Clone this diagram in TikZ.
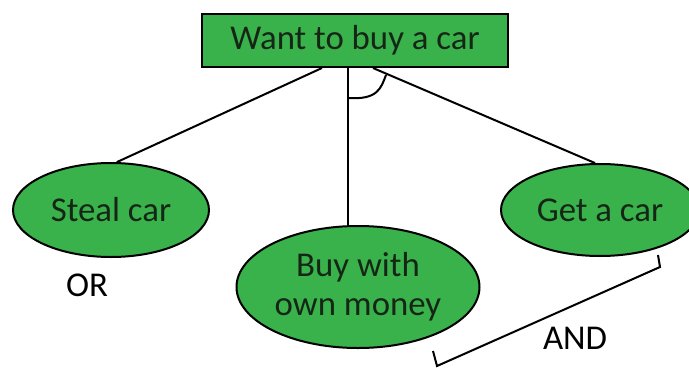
\documentclass[tikz,border=0pt]{standalone}
\usepackage{fontspec}
\setmainfont{Carlito}
\usetikzlibrary{shapes.geometric}
\definecolor{carGreen}{RGB}{58,178,76}
\definecolor{inkDark}{RGB}{22,38,22}
\tikzset{
    goalbox/.style={draw, line width=1pt, fill=carGreen, text=inkDark, minimum width=153pt, minimum height=26.5pt, inner sep=0pt},
    subgoal/.style={draw, ellipse, line width=1pt, fill=carGreen, text=inkDark, inner sep=0pt, align=center},
    link/.style={line width=1pt}
}
\begin{document}
\begin{tikzpicture}[x=0.5pt, y=-0.5pt, font=\fontsize{17.4}{19.5}\selectfont]
            \useasboundingbox (0,0) rectangle (689,369);
            \node[goalbox] (goal) at (355,40.5) {Want to buy a car};
            \node[subgoal, minimum width=98pt, minimum height=47pt] (steal) at (111,210) {Steal car};
            \node[subgoal, minimum width=121.5pt, minimum height=61pt] (buy) at (358,287) {Buy with\\own money};
            \node[subgoal, minimum width=99pt, minimum height=46pt] (get) at (600,210) {Get a car};
            \coordinate (gl) at ([xshift=-16.5pt]goal.south);
            \coordinate (gm) at ([xshift=-3.5pt]goal.south);
            \coordinate (gr) at ([xshift=9pt]goal.south);
            \draw[link] (gl) -- (steal.83);
            \draw[link] (gm) -- (gm |- buy.north);
            \draw[link] (gr) -- (get.96);
            \draw[link] (348,98) .. controls (378,100) and (381,88) .. (386,75); % and arc
            \node (or) at (87,285) {OR};
            \node (and) at (575,338) {AND};
            \draw[link] (433,351) -- (437,366) -- (660,267) -- (658,255);
        \end{tikzpicture}
\end{document}
